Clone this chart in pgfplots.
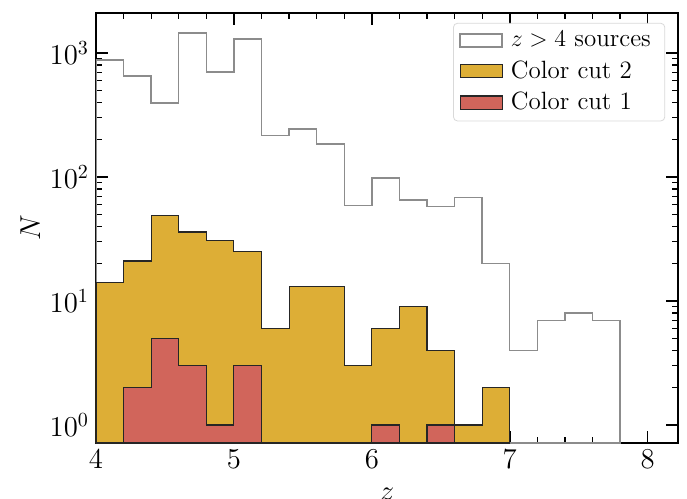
\documentclass[border=0pt]{standalone}
\usepackage{pgfplots}
\pgfplotsset{compat=1.18}
\usetikzlibrary{calc}

\definecolor{goldc}{RGB}{221,174,54}
\definecolor{redc}{RGB}{209,101,91}
\definecolor{grayl}{RGB}{140,140,140}

\begin{document}
\begin{tikzpicture}
\begin{axis}[
    scale only axis,
    width=291pt, height=215pt,
    xmin=4, xmax=8.22,
    ymode=log, ymin=0.716, ymax=2100,
    log origin y=infty,
    xtick={4,5,6,7,8},
    minor x tick num=4,
    ytick={1,10,100,1000},
    tick align=inside,
    xtick pos=both, ytick pos=both,
    major tick length=6pt, minor tick length=3pt,
    every tick/.style={black, line width=0.8pt},
    minor tick style={line width=0.6pt},
    axis line style={line width=0.9pt},
    tick label style={font=\fontsize{14}{14}\selectfont},
    label style={font=\fontsize{15}{15}\selectfont},
    xlabel={$z$}, ylabel={$N$},
    xlabel style={yshift=-3pt},
    ylabel style={yshift=-2pt},
    legend cell align=left,
    legend image code/.code={\draw[#1, sharp corners] (0pt,-3.3pt) rectangle (21pt,3.3pt);},
    legend style={font=\fontsize{12.5}{14}\selectfont, at={(0.978,0.977)}, anchor=north east,
        draw=gray!30, rounded corners=2pt, row sep=1.5pt, inner xsep=3pt, inner ysep=2pt,
        nodes={inner xsep=4pt}},
]
% z>4 sources
\addplot[const plot mark left, draw=grayl, line width=0.7pt, fill=none] coordinates {
(4.0,880)(4.2,650)(4.4,395)(4.6,1450)(4.8,700)(5.0,1300)(5.2,215)(5.4,244)(5.6,185)
(5.8,59)(6.0,98)(6.2,65)(6.4,58)(6.6,68)(6.8,20)(7.0,4)(7.2,7)(7.4,8)(7.6,7)(7.8,7)
} \closedcycle;
\addlegendentry{$z>4$ sources}
% color cut 2
\addplot[const plot mark left, draw=black!85, line width=0.55pt, fill=goldc] coordinates {
(4.0,14)(4.2,21)(4.4,49)(4.6,36)(4.8,31)(5.0,25)(5.2,6)(5.4,13)(5.6,13)
(5.8,3)(6.0,6)(6.2,9)(6.4,4)(6.6,1)(6.8,2)(7.0,2)
} \closedcycle;
\addlegendentry{Color cut 2}
% color cut 1
\addplot[const plot mark left, draw=black!85, line width=0.55pt, fill=redc] coordinates {
(4.2,2)(4.4,5)(4.6,3)(4.8,1)(5.0,3)(5.2,3)
} \closedcycle;
\addlegendentry{Color cut 1}
\addplot[const plot mark left, draw=black!85, line width=0.55pt, fill=redc, forget plot] coordinates {
(6.0,1)(6.2,1)
} \closedcycle;
\addplot[const plot mark left, draw=black!85, line width=0.55pt, fill=redc, forget plot] coordinates {
(6.4,1)(6.6,1)
} \closedcycle;
\end{axis}
\pgfresetboundingbox
\path[use as bounding box] ($(current axis.south west)+(-48pt,-28pt)$) rectangle ($(current axis.north east)+(4.5pt,6.5pt)$);
\end{tikzpicture}
\end{document}
